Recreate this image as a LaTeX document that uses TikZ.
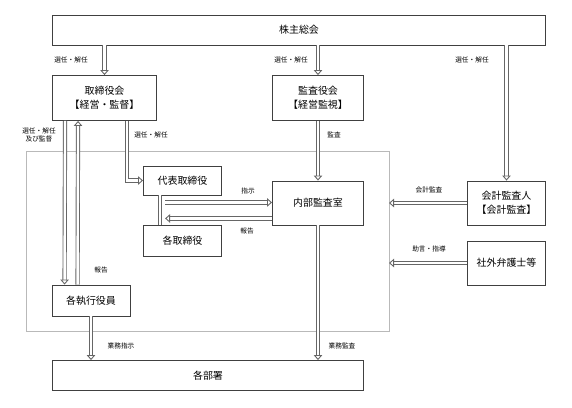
\documentclass[tikz,border=0pt]{standalone}
\usepackage{fontspec}
\setmainfont{Noto Sans CJK JP}
\usetikzlibrary{arrows.meta}
\tikzset{
  box/.style={draw=black!75,line width=0.9bp,fill=white,align=center,inner sep=0pt,font=\fontsize{10}{14}\selectfont},
  arr/.style={draw=black!60,line width=0.9bp,double=white,double distance=2.4bp,-{Triangle[open,length=5bp,width=8.5bp,line width=0.9bp]}},
  pipe/.style={draw=black!60,line width=0.9bp,double=white,double distance=2.4bp},
  lbl/.style={font=\fontsize{6.7}{8.5}\selectfont,align=center,inner sep=0pt},
}
\begin{document}
\begin{tikzpicture}[x=1bp,y=-1bp]
\useasboundingbox (0,0) rectangle (572,407);
%灰色の枠
\draw[gray!55,line width=0.8bp] (26,151) rectangle (389,331);
\coordinate (waku) at (389,151);
%各ボックス
\node[box,minimum width=493bp,minimum height=30bp] (soukai) at (299,30) {株主総会};
\node[box,minimum width=104bp,minimum height=45bp] (torishimari) at (104.5,98) {取締役会\\【経営・監督】};
\node[box,minimum width=91bp,minimum height=45bp] (kansayaku) at (318,98) {監査役会\\【経営監視】};
\node[box,minimum width=78bp,minimum height=29bp] (daihyo) at (182.5,180.5) {代表取締役};
\node[box,minimum width=78bp,minimum height=31bp] (kaku) at (182.5,240.5) {各取締役};
\node[box,minimum width=91bp,minimum height=44bp] (naibu) at (318,203) {内部監査室};
\node[box,minimum width=78bp,minimum height=44bp] (kaikei) at (506.5,203) {会計監査人\\【会計監査】};
\node[box,minimum width=78bp,minimum height=44bp] (bengoshi) at (506.5,263) {社外弁護士等};
\node[box,minimum width=78bp,minimum height=31bp] (shikko) at (91,300.5) {各執行役員};
\node[box,minimum width=311bp,minimum height=30bp] (kakubusho) at (208,375.5) {各部署};
%株主総会から
\foreach \n in {torishimari,kansayaku,kaikei}
\draw[arr] (\n.north |- soukai.south) -- (\n.north);
\node[lbl] (l1) at (71,60) {選任・解任};
\node[lbl] (l2) at (291,60) {選任・解任};
\node[lbl] (l3) at (472,60) {選任・解任};
%取締役会と執行役員
\draw[arr] ([xshift=13bp]torishimari.south west) -- ([xshift=13bp]shikko.north west);
\draw[arr] ([xshift=26bp]shikko.north west) -- ([xshift=26bp]torishimari.south west);
\node[lbl] (l4) at (39,135) {選任・解任\\及び監督};
\node[lbl] (l5) at (101,270) {報告};
\draw[arr] ([xshift=-30bp]torishimari.south east) |- (daihyo.west);
\node[lbl] (l6) at (151,135) {選任・解任};
\draw[pipe] ([xshift=17bp]daihyo.south west) -- ([xshift=17bp]kaku.north west);
%内部監査室
\draw[arr] ([xshift=22bp,yshift=-7bp]daihyo.south west) -- ([yshift=-7bp]naibu.west |- daihyo.south);
\draw[arr] ([yshift=-23bp]naibu.west |- daihyo.south) -- ([xshift=22bp,yshift=-23bp]daihyo.south west);
\node[lbl] (l7) at (248,191) {指示};
\node[lbl] (l8) at (247,231) {報告};
\draw[arr] (kansayaku.south) -- (naibu.north);
\node[lbl] (l9) at (334,135) {監査};
\draw[arr] (kaikei.west) -- (kaikei.west -| waku);
\draw[arr] (bengoshi.west) -- (bengoshi.west -| waku);
\node[lbl] (l10) at (429,190) {会計監査};
\node[lbl] (l11) at (429,249) {助言・指導};
%各部署へ
\draw[arr] (shikko.south) -- (shikko.south |- kakubusho.north);
\draw[arr] (naibu.south) -- (naibu.south |- kakubusho.north);
\node[lbl] (l12) at (121,346) {業務指示};
\node[lbl] (l13) at (342,346) {業務監査};
\end{tikzpicture}
\end{document}
